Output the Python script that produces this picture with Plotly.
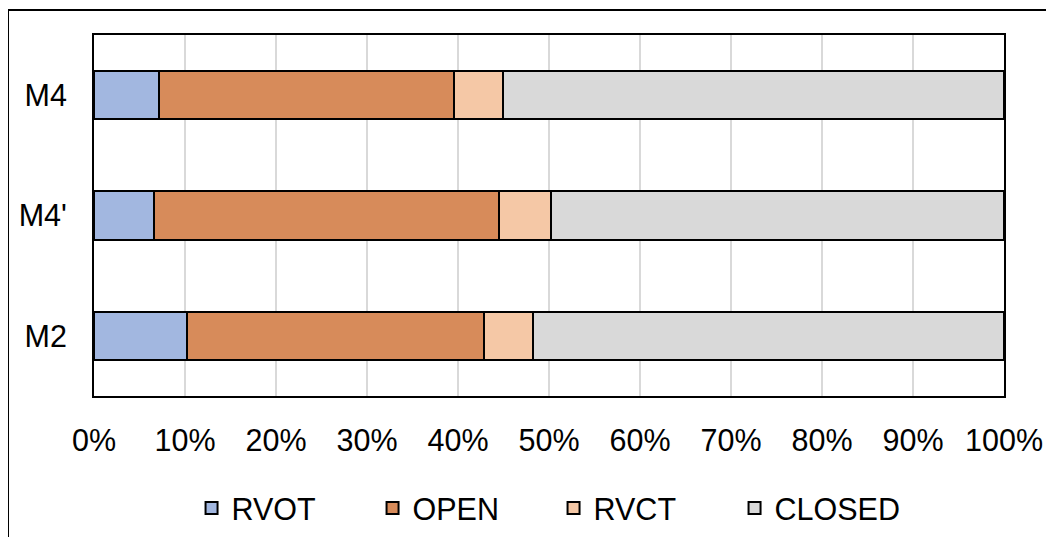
"""Stacked 100% horizontal bar chart of valve phase shares per model."""

import plotly.graph_objects as go

# Data
models = ['M2', "M4'", 'M4']
rvot = [0.102, 0.066, 0.071]
open_ = [0.327, 0.379, 0.325]
rvct = [0.053, 0.057, 0.053]
closed = [0.518, 0.498, 0.551]

series = [
    ('RVOT', rvot, '#A2B7E0'),
    ('OPEN', open_, '#D78B5A'),
    ('RVCT', rvct, '#F5C8A6'),
    ('CLOSED', closed, '#D9D9D9'),
]

FONT = 'Liberation Sans, Arial, sans-serif'

fig = go.Figure()
for name, vals, color in series:
    fig.add_trace(go.Bar(
        y=models,
        x=vals,
        name=name,
        orientation='h',
        marker={'color': color, 'line': {'color': 'black', 'width': 2}},
    ))

# page body has an 8px margin, so the plot box is offset to land at
# x 94..1004, y 35..396 in the window
fig.update_layout(
    barmode='stack',
    bargap=0.6,
    width=1054,
    height=537,
    margin={'l': 86, 'r': 58, 't': 27, 'b': 149, 'autoexpand': False},
    plot_bgcolor='white',
    paper_bgcolor='white',
    font={'family': FONT, 'size': 30.5, 'color': 'black'},
    xaxis={
        'range': [0, 1],
        'dtick': 0.1,
        'tickformat': '.0%',
        'showgrid': True,
        'gridcolor': '#D9D9D9',
        'gridwidth': 2,
        'showline': True,
        'linecolor': 'black',
        'linewidth': 2,
        'mirror': True,
        'ticks': '',
        'ticklabelstandoff': 16,
        'zeroline': False,
    },
    yaxis={
        'categoryorder': 'array',
        'categoryarray': models,
        'showline': True,
        'linecolor': 'black',
        'linewidth': 2,
        'mirror': True,
        'ticks': '',
        'ticklabelstandoff': 19,
    },
    legend={
        'orientation': 'h',
        'x': 0.505,
        'xanchor': 'center',
        'y': -0.311,
        'yanchor': 'middle',
        'traceorder': 'normal',
        'entrywidth': 136,
        'font': {'size': 30.5},
    },
    shapes=[
        # outer chart frame (top and left edges visible)
        {
            'type': 'rect', 'xref': 'paper', 'yref': 'paper',
            'x0': -0.0945, 'x1': 1.2, 'y0': -0.45, 'y1': 1.069,
            'line': {'color': 'black', 'width': 2},
            'fillcolor': 'rgba(0,0,0,0)',
            'layer': 'below',
        }
    ],
)

fig.write_html("out.html")
